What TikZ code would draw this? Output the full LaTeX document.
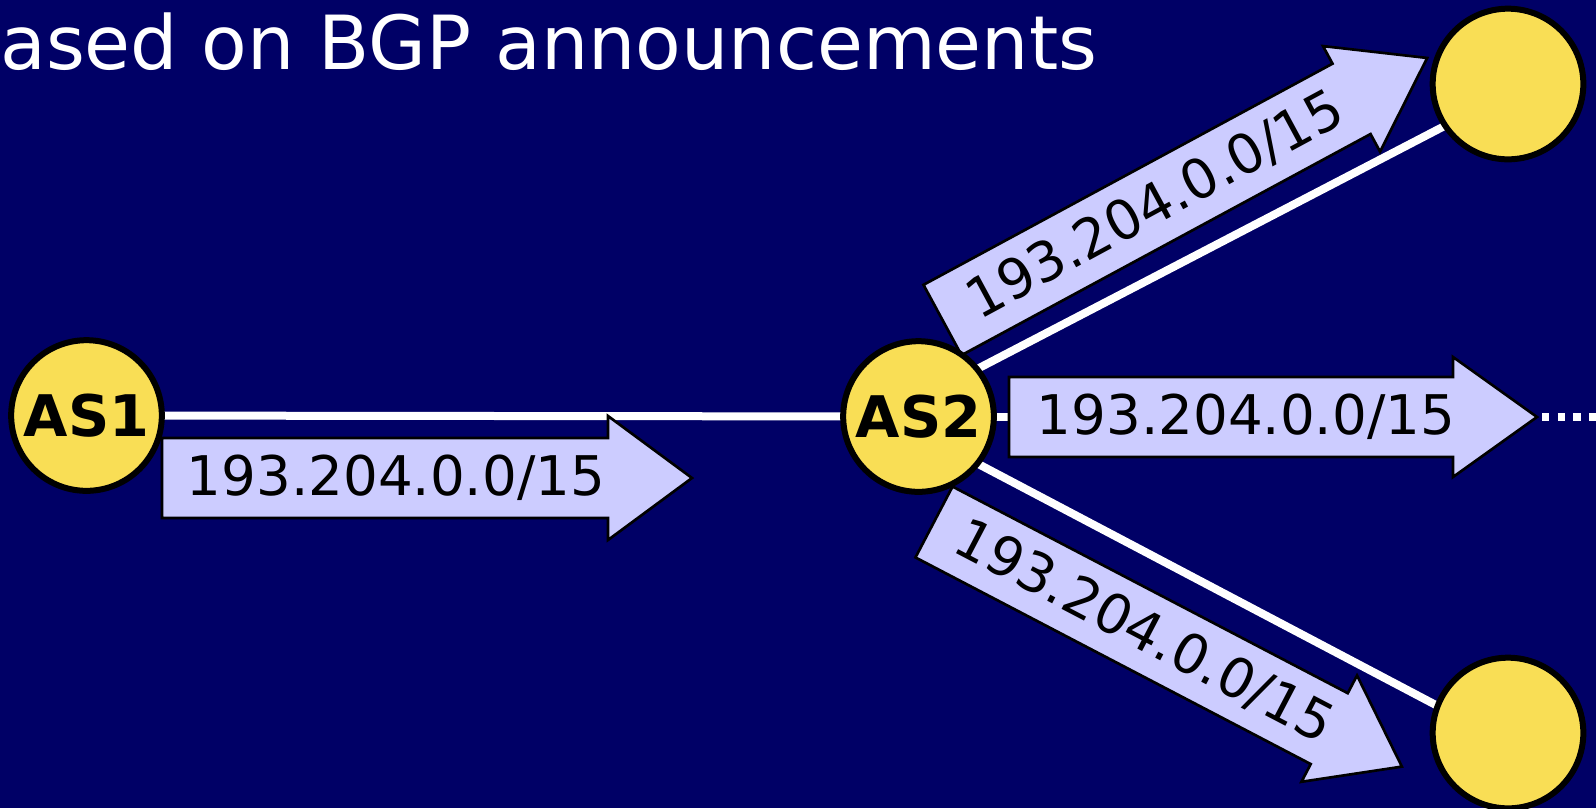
\documentclass[tikz,border=0pt]{standalone}
\usepackage{fontspec}
\setmainfont{DejaVu Sans}
\definecolor{bgnavy}{RGB}{0,0,102}
\definecolor{asyellow}{RGB}{249,222,85}
\definecolor{arrlav}{RGB}{204,204,255}
\tikzset{
  asnode/.style={circle, draw=black, line width=4.5pt, fill=asyellow, minimum size=113pt, inner sep=0pt, font=\fontsize{43}{43}\selectfont\bfseries, text=black},
  link/.style={draw=white, line width=6pt},
  dotlink/.style={draw=white, line width=6pt, dash pattern=on 5.6pt off 6.2pt},
  annarrow/.style={draw=black, line width=2pt, fill=arrlav, line join=miter},
  lbl/.style={font=\fontsize{41}{41}\selectfont, text=black, inner sep=0pt, transform shape}
}
\begin{document}
\begin{tikzpicture}[x=0.75pt,y=-0.75pt]
\useasboundingbox (0,0) rectangle (1596,808);
\fill[bgnavy] (0,0) rectangle (1596,808);

% title
\node[anchor=base west, inner sep=0pt, text=white, font=\fontsize{56}{56}\selectfont] (title) at (0,69) {ased on BGP announcements};

% AS nodes positions
\coordinate (c1) at (86.5,415.5);
\coordinate (c2) at (918.5,416.5);
\coordinate (c3) at (1508,84);
\coordinate (c4) at (1508,733);

% links
\draw[link] (c1) -- (c2);
\draw[link] (c2) -- (1100,416.5);
\draw[link] ([shift={(0,-17)}]c2) -- ([shift={(0,9)}]c3);
\draw[link] ([shift={(0,16)}]c2) -- ([shift={(0,10)}]c4);
\coordinate (dotstart) at (1542,416.5);
\coordinate (dotend) at (1600,416.5);
\draw[dotlink] (dotstart) -- (dotend);

% arrow 1 (AS1 -> AS2)
\begin{scope}[shift={(162,478)}]
  \draw[annarrow] (0,-40) -- (446,-40) -- (446,-62) -- (530,0) -- (446,62) -- (446,40) -- (0,40) -- cycle;
  \node[lbl] (l1) at (234,0) {193.204.0.0/15};
\end{scope}

% arrow 2 (AS2 -> right)
\begin{scope}[shift={(1009,417)}]
  \draw[annarrow] (0,-40) -- (444,-40) -- (444,-60) -- (528,0) -- (444,60) -- (444,40) -- (0,40) -- cycle;
  \node[lbl] (l2) at (237,0) {193.204.0.0/15};
\end{scope}

% arrow 3 (AS2 -> top right)
\begin{scope}[shift={(942.5,320)}, rotate=28.4]
  \draw[annarrow] (0,-40) -- (465,-40) -- (465,-60) -- (551,0) -- (465,60) -- (465,40) -- (0,40) -- cycle;
  \node[lbl] (l3) at (242,0) {193.204.0.0/15};
\end{scope}

% arrow 4 (AS2 -> bottom right)
\begin{scope}[shift={(934,522)}, rotate=-27.6]
  \draw[annarrow] (0,-40) -- (446,-40) -- (446,-60) -- (528,0) -- (446,60) -- (446,40) -- (0,40) -- cycle;
  \node[lbl] (l4) at (237,0) {193.204.0.0/15};
\end{scope}

% AS circles
\node[asnode] (AS1) at (c1) {AS1};
\node[asnode] (AS2) at (c2) {AS2};
\node[asnode] (AS3) at (c3) {};
\node[asnode] (AS4) at (c4) {};
\end{tikzpicture}
\end{document}
